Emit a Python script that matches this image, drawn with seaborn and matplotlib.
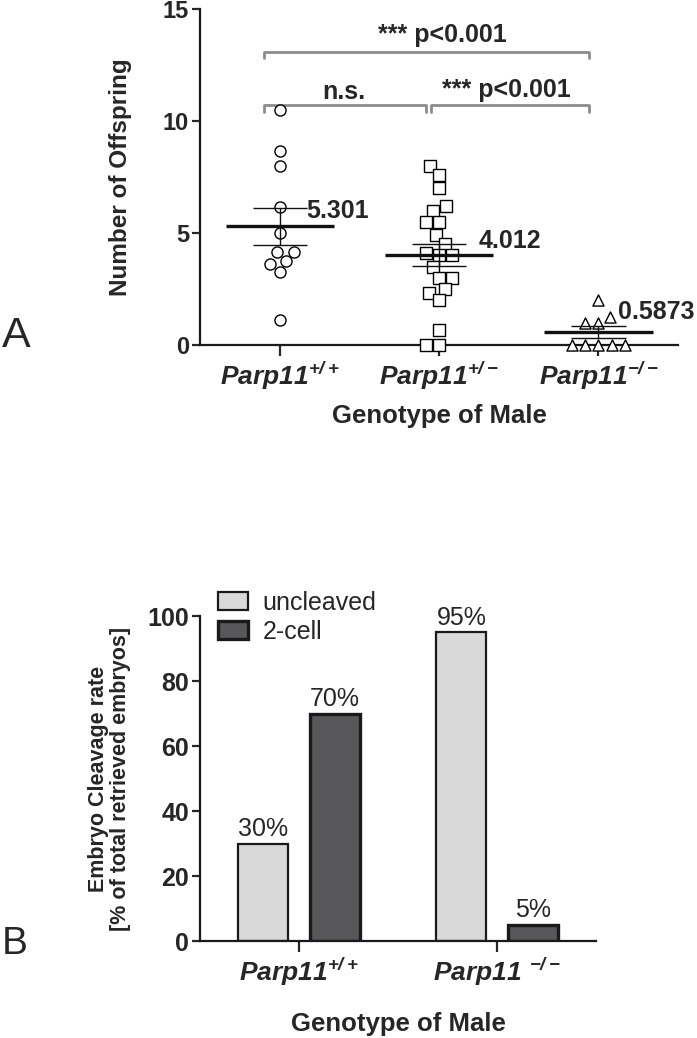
import numpy as np
import pandas as pd
import seaborn as sns
from matplotlib import pyplot as plt

# Panel A: number of offspring per male, by genotype
genotypes = ["+/+", "+/-", "-/-"]
offspring_wt = [10.5, 8.67, 8.0, 6.17, 5.0, 4.17, 4.17, 3.6, 3.75, 3.25, 1.1]
offspring_het = [8.0, 7.6, 7.0, 6.2, 6.0, 5.5, 5.5, 4.9, 4.5, 4.0, 4.0, 4.1,
                 3.5, 3.0, 3.0, 2.5, 2.33, 2.0, 0.67, 0.0, 0.0]
offspring_ko = [2.0, 1.0, 1.0, 1.25, 0.0, 0.0, 0.0, 0.0, 0.0]
mean_labels = ["5.301", "4.012", "0.5873"]
tick_labels_a = [r"$Parp11^{+/+}$", r"$Parp11^{+/-}$", r"$Parp11^{-/-}$"]

# Panel B: embryo cleavage rate
genotypes_b = ["+/+", "-/-"]
stages = ["uncleaved", "2-cell"]
uncleaved = [30, 95]
two_cell = [70, 5]
tick_labels_b = [r"$Parp11^{+/+}$", r"$Parp11\ ^{-/-}$"]

sns.set_style("ticks")
plt.rcParams["font.family"] = ["Liberation Sans", "DejaVu Sans"]
plt.rcParams["mathtext.fontset"] = "custom"
plt.rcParams["mathtext.rm"] = "Liberation Sans:bold:italic"
plt.rcParams["mathtext.it"] = "Liberation Sans:bold:italic"
plt.rcParams["mathtext.bf"] = "Liberation Sans:bold:italic"
plt.rcParams["axes.linewidth"] = 1.6
plt.rcParams["axes.edgecolor"] = "#1a1a1a"

fig = plt.figure(figsize=(6.97, 10.38), dpi=100)
ax1 = fig.add_axes([0.287, 0.6676, 0.686, 0.3237])
ax2 = fig.add_axes([0.287, 0.0934, 0.568, 0.3131])

# ---------- panel A ----------
df_a = pd.DataFrame({
    "genotype": ["+/+"] * len(offspring_wt) + ["+/-"] * len(offspring_het) + ["-/-"] * len(offspring_ko),
    "offspring": offspring_wt + offspring_het + offspring_ko,
})

for g, marker in zip(genotypes, ["o", "s", "^"]):
    sns.swarmplot(data=df_a[df_a["genotype"] == g], x="genotype", y="offspring",
                  order=genotypes, marker=marker, size=8, color="white",
                  edgecolor="black", linewidth=1, ax=ax1, clip_on=False, zorder=3)

stats = df_a.groupby("genotype")["offspring"].agg(["mean", "sem"]).reindex(genotypes)
for i, (m, s) in enumerate(zip(stats["mean"], stats["sem"])):
    ax1.hlines(m, i - 0.34, i + 0.34, color="#111111", lw=2.4, zorder=4)
    ax1.hlines([m - s, m + s], i - 0.17, i + 0.17, color="#111111", lw=1, zorder=4)
    ax1.vlines(i, m - s, m + s, color="#111111", lw=1, zorder=4)

# mean value labels, offset from each group centre
label_offsets = [(0.165, 6.0), (0.245, 4.66), (0.125, 1.48)]
for i, (txt, (dx, y)) in enumerate(zip(mean_labels, label_offsets)):
    ax1.text(i + dx, y, txt, fontsize=18, fontweight="bold", va="center", ha="left", zorder=5)

# significance brackets
gray = "#8c8c8c"
for x0, x1, y in [(-0.1, 1.94, 13.1), (-0.1, 0.92, 10.7), (0.95, 1.94, 10.7)]:
    ax1.plot([x0, x0, x1, x1], [y - 0.3, y, y, y - 0.3], color=gray, lw=2, clip_on=False)
ax1.text(1.02, 13.85, "*** p<0.001", fontsize=18, fontweight="bold", ha="center", va="center")
ax1.text(0.40, 11.3, "n.s.", fontsize=18, fontweight="bold", ha="center", va="center")
ax1.text(1.42, 11.4, "*** p<0.001", fontsize=18, fontweight="bold", ha="center", va="center")

ax1.set_xlim(-0.5, 2.5)
ax1.set_ylim(0, 15)
ax1.set_yticks([0, 5, 10, 15])
ax1.set_xticks(range(3))
ax1.set_xticklabels(tick_labels_a, fontsize=19)
ax1.tick_params(axis="y", width=1.6, length=6, labelsize=17, pad=2)
ax1.tick_params(axis="x", width=1.6, length=8, pad=3)
for lab in ax1.get_yticklabels():
    lab.set_fontweight("bold")
ax1.set_ylabel("Number of Offspring", fontsize=17.5, fontweight="bold", labelpad=22)
ax1.set_xlabel("Genotype of Male", fontsize=18.5, fontweight="bold", labelpad=8)
sns.despine(ax=ax1)

# ---------- panel B ----------
df_b = pd.DataFrame({
    "genotype": genotypes_b * 2,
    "stage": [stages[0]] * 2 + [stages[1]] * 2,
    "rate": uncleaved + two_cell,
})
sns.barplot(data=df_b, x="genotype", y="rate", hue="stage", hue_order=stages,
            palette=["#d9d9d9", "#58585a"], width=0.72, gap=0.3, saturation=1,
            edgecolor="#1a1a1a", linewidth=1.6, errorbar=None, ax=ax2)
# the dark bars carry a heavier outline
for bar in ax2.containers[1]:
    bar.set_linewidth(2.4)
for cont in ax2.containers:
    ax2.bar_label(cont, fmt="{:g}%", padding=2, fontsize=18)

handles, labels = ax2.get_legend_handles_labels()
handles[1].set_linewidth(2.4)
ax2.legend(handles, labels, loc="upper left", bbox_to_anchor=(0.045, 1.078),
           frameon=False, fontsize=18, handlelength=1.2, handleheight=0.75,
           labelspacing=0.2, handletextpad=0.6, borderpad=0, borderaxespad=0)

ax2.set_xlim(-0.5, 1.5)
ax2.set_ylim(0, 100)
ax2.set_yticks(range(0, 101, 20))
ax2.set_xticks(range(2))
ax2.set_xticklabels(tick_labels_b, fontsize=19)
ax2.tick_params(axis="y", width=1.6, length=6, labelsize=18, pad=2)
ax2.tick_params(axis="x", width=1.6, length=8, pad=3)
for lab in ax2.get_yticklabels():
    lab.set_fontweight("bold")
ax2.set_ylabel("Embryo Cleavage rate\n[% of total retrieved embryos]", fontsize=15.5,
               fontweight="bold", labelpad=12, linespacing=1.05)
ax2.set_xlabel("Genotype of Male", fontsize=18.5, fontweight="bold", labelpad=17)
sns.despine(ax=ax2)

fig.text(0.003, 0.657, "A", fontsize=31, va="bottom")
fig.text(0.003, 0.073, "B", fontsize=28, va="bottom")

fig.savefig("out.png", dpi=100)
